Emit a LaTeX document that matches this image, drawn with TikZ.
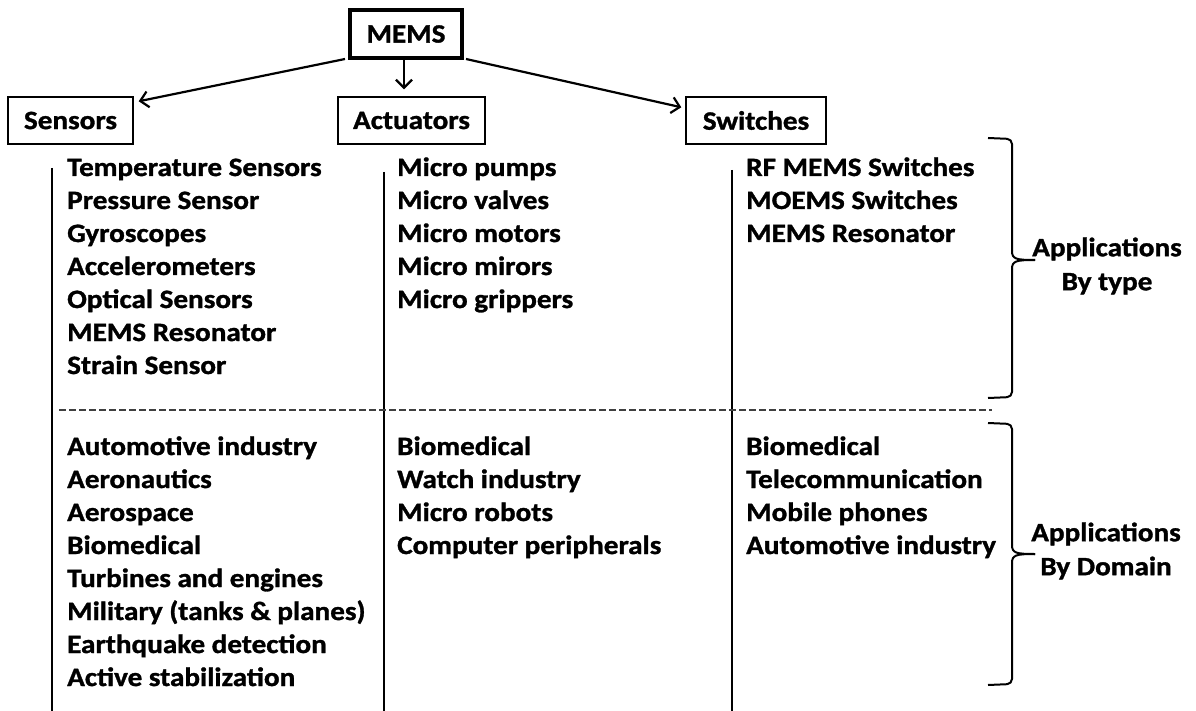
\documentclass[tikz,border=0pt]{standalone}
\usepackage{fontspec}
\setmainfont[FakeStretch=1.1, BoldFeatures={FakeBold=1.2}]{Carlito}
\usetikzlibrary{arrows.meta}
\tikzset{
  txt/.style={font=\fontsize{26.5}{34}\selectfont\bfseries},
  hdrbox/.style={txt, draw, line width=1.4pt, minimum height=47pt, inner sep=0pt},
  item/.style={txt, anchor=base west, inner sep=0pt},
  conn/.style={line width=2.2pt, -{Straight Barb[length=8pt,width=16pt]}},
  colline/.style={line width=2pt},
  sepline/.style={line width=1.4pt, black!75, dash pattern=on 6.5pt off 3.5pt},
  bracepath/.style={line width=2pt, rounded corners=5pt},
  tipcurve/.style={line width=2pt},
  lbl/.style={txt, align=center, inner sep=0pt}
}
\begin{document}
\begin{tikzpicture}[x=1pt,y=-1pt]
\useasboundingbox[fill=white] (0,0) rectangle (1196,711);

% header boxes
\node[hdrbox, line width=4pt, minimum width=112pt, minimum height=48pt] (mems) at (406,34) {MEMS};
\node[hdrbox, minimum width=125pt] (sens) at (70.5,120.5) {Sensors};
\node[hdrbox, minimum width=147pt] (act) at (411.5,120.5) {Actuators};
\node[hdrbox, minimum width=140pt] (sw) at (756,120.5) {Switches};

% connectors
\draw[conn] ([shift={(-3,-1)}]mems.south west) -- ([shift={(5,5)}]sens.north east);
\draw[conn, shorten >=7pt] ([xshift=-2pt]mems.south) -- ([xshift=-2pt]mems.south |- act.north);
\draw[conn] ([shift={(2,-1)}]mems.south east) -- ([shift={(-4,11)}]sw.north west);

% column lines
\draw[colline] (52,168) -- (52,711);
\draw[colline] (384,172) -- (384,711);
\draw[colline] (732,170) -- (732,711);

% separator
\draw[sepline] (59,410) -- (992,410);

% Sensors lists
\foreach \t [count=\i from 0] in {Temperature Sensors, Pressure Sensor, Gyroscopes, Accelerometers, Optical Sensors, MEMS Resonator, Strain Sensor}
  \node[item] (sa\i) at (67,176+33*\i) {\t};
\foreach \t [count=\i from 0] in {Automotive industry, Aeronautics, Aerospace, Biomedical, Turbines and engines, Military (tanks \& planes), Earthquake detection, Active stabilization}
  \node[item] (sb\i) at (67,455+33*\i) {\t};

% Actuators lists
\foreach \t [count=\i from 0] in {Micro pumps, Micro valves, Micro motors, Micro mirors, Micro grippers}
  \node[item] (aa\i) at (397,176+33*\i) {\t};
\foreach \t [count=\i from 0] in {Biomedical, Watch industry, Micro robots, Computer peripherals}
  \node[item] (ab\i) at (397,455+33*\i) {\t};

% Switches lists
\foreach \t [count=\i from 0] in {RF MEMS Switches, MOEMS Switches, MEMS Resonator}
  \node[item] (wa\i) at (746,176+33*\i) {\t};
\foreach \t [count=\i from 0] in {Biomedical, Telecommunication, Mobile phones, Automotive industry}
  \node[item] (wb\i) at (746,455+33*\i) {\t};

% braces
\draw[bracepath] (988,138) -- (1012,139) -- (1012,251);
\draw[tipcurve] (1012,251) .. controls (1012,259) and (1016,260) .. (1035,260);
\draw[bracepath] (988,398) -- (1012,397) -- (1012,269);
\draw[tipcurve] (1012,269) .. controls (1012,261) and (1016,260) .. (1035,260);

\draw[bracepath] (988,423) -- (1012,424) -- (1012,545);
\draw[tipcurve] (1012,545) .. controls (1012,553) and (1016,554) .. (1035,554);
\draw[bracepath] (988,685) -- (1012,684) -- (1012,563);
\draw[tipcurve] (1012,563) .. controls (1012,555) and (1016,554) .. (1035,554);

% brace labels
\node[lbl] (ltype) at (1107,266) {Applications\\By type};
\node[lbl] (ldom) at (1106,551) {Applications\\By Domain};
\end{tikzpicture}
\end{document}
